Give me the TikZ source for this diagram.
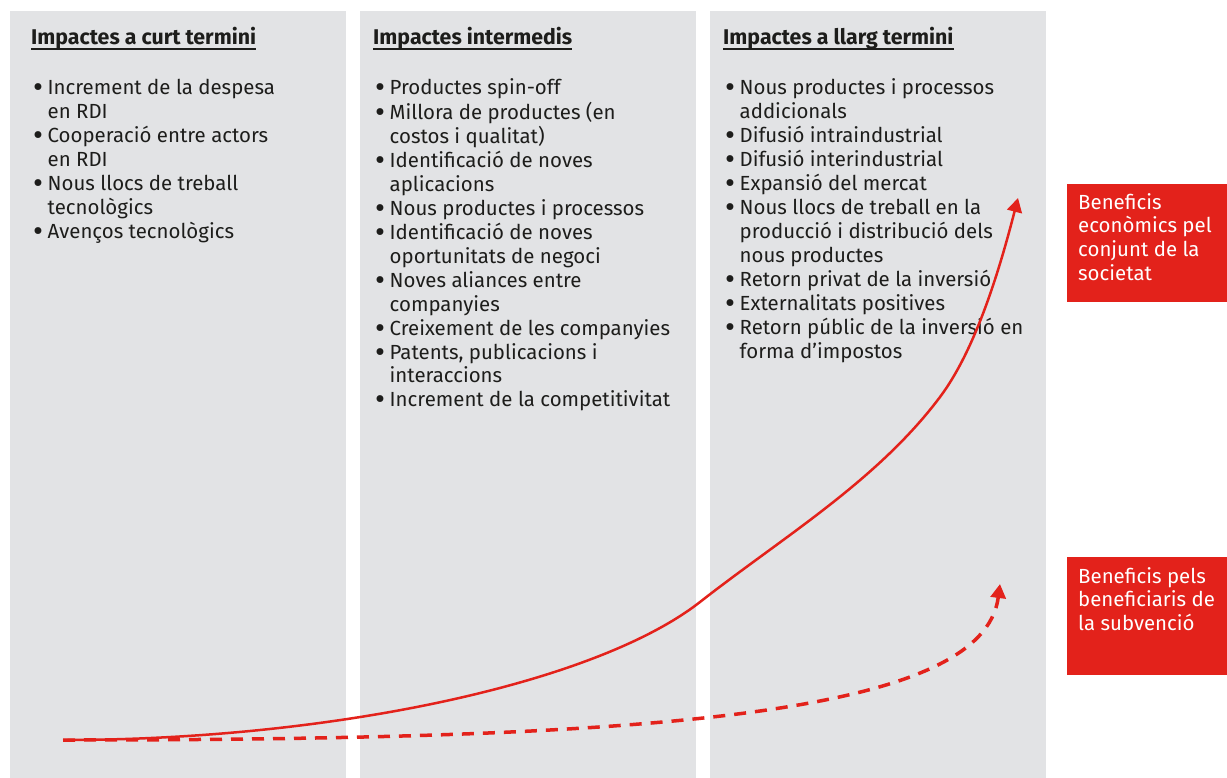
\documentclass[tikz,border=0pt]{standalone}
\usepackage{fontspec}
\setmainfont{Fira Sans}
\usetikzlibrary{arrows.meta}

\definecolor{panelgray}{HTML}{E2E3E5}
\definecolor{benefitred}{HTML}{E3221B}
\definecolor{inktext}{HTML}{1D1D1B}

% bullet column of the lists
\newcommand\bul{\makebox[14.5bp][l]{\raisebox{-3bp}{\scalebox{1.5}{\textbullet}}}}

\begin{document}
\begin{tikzpicture}[x=1bp,y=-1bp,
    panel/.style={fill=panelgray},
    heading/.style={anchor=base west,inner sep=0,text=inktext,
        font=\fontsize{21.4}{24}\selectfont\bfseries},
    itemlist/.style={anchor=base west,inner sep=0,text=inktext,
        font=\fontsize{20.5}{24}\selectfont},
    redbox/.style={fill=benefitred,anchor=north west,minimum width=160bp,
        minimum height=118bp,inner sep=0},
    boxtext/.style={anchor=base west,inner sep=0,text=white,
        font=\fontsize{20.5}{24}\selectfont},
    benefitline/.style={benefitred,line width=2.5bp,
        -{Triangle[width=15bp,length=14bp]}},
    subsidyline/.style={benefitred,line width=3.5bp,dash pattern=on 12bp off 9bp,
        -{Triangle[width=15bp,length=14bp]}}]

    \useasboundingbox (0,0) rectangle (1227,778);

    % grey columns
    \fill[panel] (10,11) rectangle (346,778);
    \fill[panel] (360,11) rectangle (696,778);
    \fill[panel] (710,11) rectangle (1046,778);

    % column headings
    \node[heading] (shortT) at (31,45) {Impactes a curt termini};
    \node[heading] (midT) at (373,45) {Impactes intermedis};
    \node[heading] (longT) at (723,45) {Impactes a llarg termini};
    \foreach \t in {shortT,midT,longT}
        \draw[inktext,line width=1.4bp] ([yshift=-4bp]\t.base west) -- ([yshift=-4bp]\t.base east);

    % lists
    \node[itemlist] (shortL) at (33,95) {\begin{tabular}[t]{@{}l@{}l@{}}
        \bul & Increment de la despesa\\ & en RDI\\
        \bul & Cooperació entre actors\\ & en RDI\\
        \bul & Nous llocs de treball\\ & tecnològics\\
        \bul & Avenços tecnològics
    \end{tabular}};

    \node[itemlist] (midL) at (375,95) {\begin{tabular}[t]{@{}l@{}l@{}}
        \bul & Productes spin-off\\
        \bul & Millora de productes (en\\ & costos i qualitat)\\
        \bul & Identificació de noves\\ & aplicacions\\
        \bul & Nous productes i processos\\
        \bul & Identificació de noves\\ & oportunitats de negoci\\
        \bul & Noves aliances entre\\ & companyies\\
        \bul & Creixement de les companyies\\
        \bul & Patents, publicacions i\\ & interaccions\\
        \bul & Increment de la competitivitat
    \end{tabular}};

    \node[itemlist] (longL) at (725,95) {\begin{tabular}[t]{@{}l@{}l@{}}
        \bul & Nous productes i processos\\ & addicionals\\
        \bul & Difusió intraindustrial\\
        \bul & Difusió interindustrial\\
        \bul & Expansió del mercat\\
        \bul & Nous llocs de treball en la\\ & producció i distribució dels\\ & nous productes\\
        \bul & Retorn privat de la inversió\\
        \bul & Externalitats positives\\
        \bul & Retorn públic de la inversió en\\ & forma d’impostos
    \end{tabular}};

    % benefit boxes
    \node[redbox] (econBox) at (1067,184) {};
    \node[boxtext] (econTxt) at (1078,209) {\begin{tabular}[t]{@{}l@{}}
        Beneficis\\ econòmics pel\\ conjunt de la\\ societat\end{tabular}};
    \node[redbox] (subvBox) at (1067,557) {};
    \node[boxtext] (subvTxt) at (1078,583) {\begin{tabular}[t]{@{}l@{}}
        Beneficis pels\\ beneficiaris de\\ la subvenció\end{tabular}};

    % curves
    \coordinate (origin) at (63,740);
    \coordinate (econTip) at (1018,198);
    \coordinate (subvTip) at (1000,584);

    \draw[benefitline] (origin) .. controls (330,740) and (595,684) .. (700,602)
        .. controls (783,537) and (877,481) .. (940,397)
        .. controls (976,349) and (1000,268) .. (econTip);
    \draw[subsidyline] (origin) .. controls (663,740) and (983,714) .. (subvTip);

\end{tikzpicture}
\end{document}
